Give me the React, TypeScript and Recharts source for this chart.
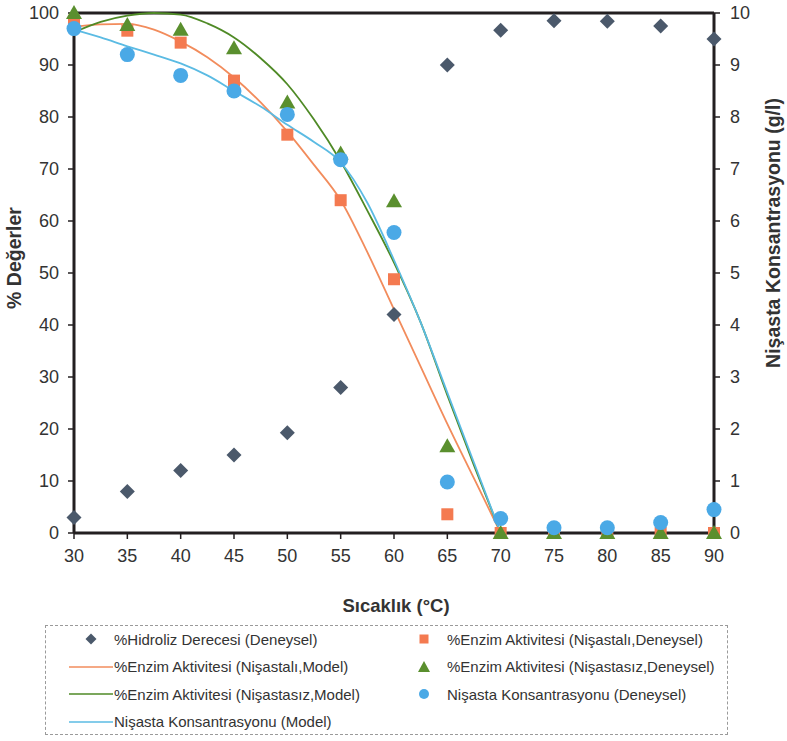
import React from "react";
import {
  ComposedChart,
  Line,
  Scatter,
  XAxis,
  YAxis,
  ReferenceLine,
} from "recharts";

// experimental points, every 5 °C
const temps = [30, 35, 40, 45, 50, 55, 60, 65, 70, 75, 80, 85, 90];
const hidrolizPct = [3, 8, 12, 15, 19.3, 28, 42, 90, 96.7, 98.5, 98.4, 97.5, 95];
const enzimNisastaliPct = [98.5, 96.6, 94.3, 87, 76.6, 64, 48.8, 3.6, 0, 0, 0, 0, 0];
const enzimNisastasizPct = [100, 97.7, 96.8, 93.2, 82.8, 73, 63.8, 16.7, 0, 0, 0, 0, 0];
const nisastaGL = [9.7, 9.2, 8.8, 8.5, 8.05, 7.18, 5.78, 0.98, 0.28, 0.1, 0.1, 0.2, 0.45];

// model curves
const modelTemps = [30, 32.5, 35, 37.5, 40, 42.5, 45, 47.5, 50, 52.5, 55, 57.5, 60, 62.5, 65, 67.5, 70];
const nisastaliModel = [97.3, 97.8, 97.9, 96.8, 94.5, 91.5, 87.6, 82.8, 77.2, 70.8, 64, 54, 43, 32, 21, 10.5, 0];
const nisastasizModel = [96.3, 98.3, 99.5, 100, 99.7, 98, 95.3, 91.3, 86.3, 79.5, 71.5, 62, 52, 40.5, 26.5, 13, 0];
const nisastaModelGL = [9.68, 9.53, 9.36, 9.2, 9.03, 8.8, 8.5, 8.2, 7.85, 7.52, 7.13, 6.35, 5.25, 4.05, 2.7, 1.35, 0];

const leftTicks = [0, 10, 20, 30, 40, 50, 60, 70, 80, 90, 100];
const rightTicks = [0, 1, 2, 3, 4, 5, 6, 7, 8, 9, 10];

const COLORS = {
  axis: "#231f20",
  text: "#333333",
  diamond: "#4b596b",
  orange: "#f47a50",
  orangeLine: "#f28c5c",
  green: "#5a8f2e",
  greenLine: "#4f8a26",
  blue: "#4aa9e6",
  blueLine: "#5bbbe3",
};

const FONT = "'Liberation Sans', Arial, sans-serif";

const modelRows = modelTemps.map((t, i) => ({
  t,
  nisastali: nisastaliModel[i],
  nisastasiz: nisastasizModel[i],
  nisasta: nisastaModelGL[i],
}));

const toPoints = (vals: number[]) => temps.map((t, i) => ({ t, v: vals[i] }));

const diamondPath = (cx: number, cy: number, s: number) =>
  `M${cx},${cy - s}L${cx + s},${cy}L${cx},${cy + s}L${cx - s},${cy}Z`;

const Diamond = (p: any) => <path d={diamondPath(p.cx, p.cy, 7.5)} fill={COLORS.diamond} />;
const Square = (p: any) => (
  <rect x={p.cx - 6} y={p.cy - 6} width={12} height={12} fill={COLORS.orange} />
);
const Triangle = (p: any) => (
  <path
    d={`M${p.cx},${p.cy - 8}L${p.cx + 8},${p.cy + 6}L${p.cx - 8},${p.cy + 6}Z`}
    fill={COLORS.green}
  />
);
const Circle = (p: any) => <circle cx={p.cx} cy={p.cy} r={7.5} fill={COLORS.blue} />;

const legendItems = [
  { label: "%Hidroliz Derecesi (Deneysel)", kind: "diamond", col: 0, row: 0 },
  { label: "%Enzim Aktivitesi (Nişastalı,Deneysel)", kind: "square", col: 1, row: 0 },
  { label: "%Enzim Aktivitesi (Nişastalı,Model)", kind: "orangeLine", col: 0, row: 1 },
  { label: "%Enzim Aktivitesi (Nişastasız,Deneysel)", kind: "triangle", col: 1, row: 1 },
  { label: "%Enzim Aktivitesi (Nişastasız,Model)", kind: "greenLine", col: 0, row: 2 },
  { label: "Nişasta Konsantrasyonu (Deneysel)", kind: "circle", col: 1, row: 2 },
  { label: "Nişasta Konsantrasyonu (Model)", kind: "blueLine", col: 0, row: 3 },
];

function LegendMarker({ kind }: { kind: string }) {
  if (kind.endsWith("Line")) {
    const c =
      kind === "orangeLine" ? COLORS.orangeLine : kind === "greenLine" ? COLORS.greenLine : COLORS.blueLine;
    return (
      <svg width={44} height={14}>
        <line x1={0} y1={7} x2={44} y2={7} stroke={c} strokeWidth={1.5} />
      </svg>
    );
  }
  return (
    <svg width={44} height={14}>
      {kind === "diamond" && <path d={diamondPath(22, 7, 5.5)} fill={COLORS.diamond} />}
      {kind === "square" && <rect x={17.5} y={2.5} width={9} height={9} fill={COLORS.orange} />}
      {kind === "triangle" && <path d="M22,1L28,12L16,12Z" fill={COLORS.green} />}
      {kind === "circle" && <circle cx={22} cy={7} r={5} fill={COLORS.blue} />}
    </svg>
  );
}

export default function App() {
  return (
    <div
      style={{
        position: "absolute",
        left: 0,
        top: 0,
        width: 787,
        height: 741,
        background: "#fff",
        fontFamily: FONT,
      }}
    >
      <ComposedChart
        width={787}
        height={620}
        data={modelRows}
        margin={{ top: 13, right: 0, bottom: 0, left: 0 }}
      >
        <XAxis
          type="number"
          dataKey="t"
          domain={[30, 90]}
          ticks={temps}
          height={87}
          axisLine={{ stroke: COLORS.axis, strokeWidth: 3 }}
          tickLine={{ stroke: COLORS.axis, strokeWidth: 1.5 }}
          tickSize={6}
          tickMargin={10}
          tick={{ fill: COLORS.text, fontSize: 18, fontFamily: FONT }}
          label={{
            content: () => (
              <text
                x={396}
                y={612}
                textAnchor="middle"
                fontSize={18.5}
                fontWeight="bold"
                fill={COLORS.text}
                fontFamily={FONT}
              >
                Sıcaklık (°C)
              </text>
            ),
          }}
        />
        <YAxis
          yAxisId="left"
          type="number"
          domain={[0, 100]}
          ticks={leftTicks}
          width={74}
          axisLine={{ stroke: COLORS.axis, strokeWidth: 3 }}
          tickLine={{ stroke: COLORS.axis, strokeWidth: 1.5 }}
          tickSize={6}
          tickMargin={9}
          tick={{ fill: COLORS.text, fontSize: 18, fontFamily: FONT }}
          label={{
            content: () => (
              <text
                x={21}
                y={258}
                transform="rotate(-90 21 258)"
                textAnchor="middle"
                fontSize={19.5}
                fontWeight="bold"
                fill={COLORS.text}
                fontFamily={FONT}
              >
                % Değerler
              </text>
            ),
          }}
        />
        <YAxis
          yAxisId="right"
          orientation="right"
          type="number"
          domain={[0, 10]}
          ticks={rightTicks}
          width={73}
          axisLine={{ stroke: COLORS.axis, strokeWidth: 3 }}
          tickLine={{ stroke: COLORS.axis, strokeWidth: 1.5 }}
          tickSize={6}
          tickMargin={10}
          tick={{ fill: COLORS.text, fontSize: 18, fontFamily: FONT }}
          label={{
            content: () => (
              <text
                x={780}
                y={233}
                transform="rotate(-90 780 233)"
                textAnchor="middle"
                fontSize={19.5}
                fontWeight="bold"
                fill={COLORS.text}
                fontFamily={FONT}
              >
                Nişasta Konsantrasyonu (g/l)
              </text>
            ),
          }}
        />
        <ReferenceLine yAxisId="left" y={100} stroke={COLORS.axis} strokeWidth={3} />

        <Line
          yAxisId="left"
          type="monotone"
          dataKey="nisastali"
          stroke={COLORS.orangeLine}
          strokeWidth={1.8}
          dot={false}
          isAnimationActive={false}
        />
        <Line
          yAxisId="left"
          type="monotone"
          dataKey="nisastasiz"
          stroke={COLORS.greenLine}
          strokeWidth={1.8}
          dot={false}
          isAnimationActive={false}
        />
        <Line
          yAxisId="right"
          type="monotone"
          dataKey="nisasta"
          stroke={COLORS.blueLine}
          strokeWidth={1.8}
          dot={false}
          isAnimationActive={false}
        />

        <Scatter yAxisId="left" data={toPoints(hidrolizPct)} dataKey="v" shape={Diamond} isAnimationActive={false} />
        <Scatter yAxisId="left" data={toPoints(enzimNisastaliPct)} dataKey="v" shape={Square} isAnimationActive={false} />
        <Scatter yAxisId="left" data={toPoints(enzimNisastasizPct)} dataKey="v" shape={Triangle} isAnimationActive={false} />
        <Scatter yAxisId="right" data={toPoints(nisastaGL)} dataKey="v" shape={Circle} isAnimationActive={false} />
      </ComposedChart>

      <div
        style={{
          position: "absolute",
          left: 45,
          top: 625,
          width: 683,
          height: 110,
          border: "1px dashed #9a9a9a",
          boxSizing: "border-box",
        }}
      >
        {legendItems.map((it) => (
          <div
            key={it.label}
            style={{
              position: "absolute",
              left: it.col === 0 ? 23 : 356,
              top: 2 + it.row * 27.5,
              display: "flex",
              alignItems: "center",
              height: 22,
              fontSize: 15,
              color: "#333",
              whiteSpace: "nowrap",
            }}
          >
            <LegendMarker kind={it.kind} />
            <span style={{ marginLeft: 1 }}>{it.label}</span>
          </div>
        ))}
      </div>
    </div>
  );
}
